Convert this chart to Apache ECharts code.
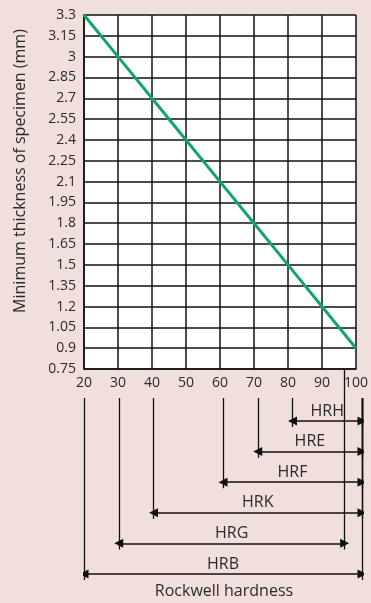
<!DOCTYPE html>
<html>
<head>
<meta charset="utf-8">
<script src="https://cdn.jsdelivr.net/npm/echarts@6/dist/echarts.min.js"></script>
<style>
    html, body { margin: 0; padding: 0; background: #f1dfdc; }
    #chart { width: 371px; height: 603px; }
</style>
</head>
<body>
<div id="chart"></div>
<script>
    // minimum thickness vs rockwell hardness
    var hardness = [20, 30, 40, 50, 60, 70, 80, 90, 100];
    var thickness = [3.3, 3.0, 2.7, 2.4, 2.1, 1.8, 1.5, 1.2, 0.9];

    // rockwell scales, one row each (top to bottom)
    var scaleNames = ['HRH', 'HRE', 'HRF', 'HRK', 'HRG', 'HRB'];
    var scaleFrom = [80, 70, 60, 40, 30, 20];
    var scaleTo = [100, 100, 100, 100, 95, 100];

    var yTicks = ['0.75', '0.9', '1.05', '1.2', '1.35', '1.5', '1.65', '1.8', '1.95',
        '2.1', '2.25', '2.4', '2.55', '2.7', '2.85', '3', '3.15', '3.3'];

    var font = '"Open Sans", "Liberation Sans", sans-serif';
    var ink = '#2a2a2a';

    var chart = echarts.init(document.getElementById('chart'));

    var arrows = [];
    var ticks = [];
    scaleNames.forEach(function (name, row) {
        arrows.push({ name: name, coords: [[scaleFrom[row], row], [scaleTo[row], row]] });
        [scaleFrom[row], scaleTo[row]].forEach(function (v) {
            // tick-labelled values start below the label, others from the plot edge
            var top = v % 10 === 0 ? -0.75 : -1.7;
            ticks.push({ coords: [[v, top], [v, row + 0.2]] });
        });
    });

    var option = {
        backgroundColor: '#f1dfdc',
        animation: false,
        textStyle: { fontFamily: font },
        grid: [
            { left: 84, right: 9, top: 15, bottom: 234, show: true, backgroundColor: '#fff', borderWidth: 0 },
            { left: 84, right: 9, top: 369, bottom: 0 }
        ],
        xAxis: [{
            type: 'value',
            gridIndex: 0,
            min: 20,
            max: 100,
            interval: 10,
            axisLine: { show: true, lineStyle: { color: '#111', width: 1.5 } },
            axisTick: { show: false },
            axisLabel: { color: ink, fontSize: 14, margin: 7, fontFamily: font },
            splitLine: { show: true, lineStyle: { color: '#111', width: 1.5 } }
        }, {
            type: 'value',
            gridIndex: 1,
            min: 20,
            max: 100,
            show: false
        }],
        yAxis: [{
            type: 'value',
            gridIndex: 0,
            min: 0.75,
            max: 3.3,
            interval: 0.15,
            axisLine: { show: true, lineStyle: { color: '#111', width: 1.5 } },
            axisTick: { show: false },
            axisLabel: {
                color: ink, fontSize: 14, margin: 8, fontFamily: font,
                formatter: function (v) {
                    var i = Math.round((v - 0.75) / 0.15);
                    return yTicks[i];
                }
            },
            splitLine: { show: true, lineStyle: { color: '#111', width: 1.5 } }
        }, {
            type: 'value',
            gridIndex: 1,
            inverse: true,
            min: -1.7,
            max: 5.95,
            show: false
        }],
        series: [{
            type: 'line',
            xAxisIndex: 0,
            yAxisIndex: 0,
            data: hardness.map(function (h, i) { return [h, thickness[i]]; }),
            showSymbol: false,
            lineStyle: { color: '#13a46d', width: 3 },
            z: 5
        }, {
            type: 'lines',
            coordinateSystem: 'cartesian2d',
            xAxisIndex: 1,
            yAxisIndex: 1,
            data: ticks,
            symbol: ['none', 'none'],
            lineStyle: { color: '#111', width: 1.3, opacity: 1 }
        }, {
            type: 'lines',
            coordinateSystem: 'cartesian2d',
            xAxisIndex: 1,
            yAxisIndex: 1,
            data: arrows,
            symbol: ['triangle', 'triangle'],
            symbolSize: 9,
            lineStyle: { color: '#111', width: 1.5, opacity: 1 },
            label: {
                show: true,
                position: 'insideMiddleTop',
                distance: 2,
                formatter: '{b}',
                color: ink,
                fontSize: 16,
                fontFamily: font
            }
        }],
        graphic: [{
            type: 'text',
            x: 20,
            y: 171,
            rotation: Math.PI / 2,
            style: {
                text: 'Minimum thickness of specimen (mm)',
                align: 'center',
                verticalAlign: 'middle',
                fill: ink,
                font: '16px ' + font
            }
        }, {
            type: 'text',
            x: 224,
            y: 591,
            style: {
                text: 'Rockwell hardness',
                align: 'center',
                verticalAlign: 'middle',
                fill: ink,
                font: '16px ' + font
            }
        }]
    };

    chart.setOption(option);
</script>
</body>
</html>
